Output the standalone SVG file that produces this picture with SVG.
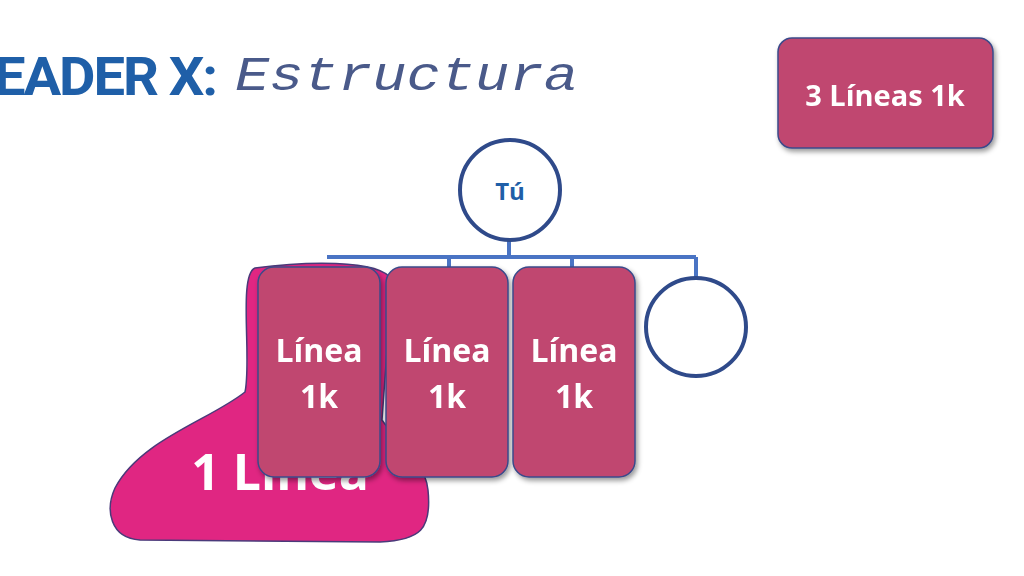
<svg xmlns="http://www.w3.org/2000/svg" width="1024" height="576" viewBox="0 0 1024 576">
<defs>
<style>
.box{fill:#c0466f;stroke:#3a4a8a;stroke-width:1.5}
.bt{font-family:"Open Sans","Liberation Sans",sans-serif;font-weight:bold;fill:#fff;text-anchor:middle}
.circ{fill:#fff;stroke:#2f4a8a;stroke-width:4}
.con{stroke:#4a74c4;stroke-width:4;fill:none}
</style>
<filter id="sh" x="-20%" y="-20%" width="140%" height="140%"><feDropShadow dx="2" dy="3" stdDeviation="2.5" flood-opacity="0.4"/></filter>
</defs>
<rect width="1024" height="576" fill="#fff"/>
<g id="title">
<text x="-6" y="95" font-family="Roboto,'Liberation Sans',sans-serif" font-weight="bold" font-size="54" fill="#1f5fa8" letter-spacing="-2" textLength="222" lengthAdjust="spacingAndGlyphs">EADER X:</text>
<text x="235" y="90" font-family="'Liberation Mono',monospace" font-style="italic" font-size="48" fill="#4a5a8a" textLength="343" lengthAdjust="spacingAndGlyphs">Estructura</text>
</g>
<g id="blob">
<path d="M255 268 C300 262 380 258 392 280 L382 420 C395 440 425 460 428 490 C432 530 420 540 380 542 L140 540 C110 538 105 510 115 488 C140 440 210 420 245 392 C252 360 238 275 255 268 Z" fill="#e02682" stroke="#4a3a7a" stroke-width="1.5"/>
<text x="280" y="490" class="bt" font-size="50">1 Línea</text>
</g>
<g id="connectors">
<path class="con" d="M509 228 V257 M327 257 H696 M449 257 V270 M572 257 V270 M696 257 V280"/>
</g>
<g id="tu"><circle class="circ" cx="510" cy="190" r="50"/>
<text x="510" y="200" font-family="'Open Sans','Liberation Sans',sans-serif" font-weight="bold" font-size="24" fill="#1f5fa8" text-anchor="middle">Tú</text></g>
<g id="empty"><ellipse class="circ" cx="696" cy="327" rx="50" ry="49"/></g>
<g id="l1" filter="url(#sh)"><rect class="box" x="258" y="267" width="122" height="210" rx="16"/>
<text class="bt" x="319" y="362" font-size="32">Línea</text><text class="bt" x="319" y="408" font-size="32">1k</text></g>
<g id="l2" filter="url(#sh)"><rect class="box" x="386" y="267" width="122" height="210" rx="16"/>
<text class="bt" x="447" y="362" font-size="32">Línea</text><text class="bt" x="447" y="408" font-size="32">1k</text></g>
<g id="l3" filter="url(#sh)"><rect class="box" x="513" y="267" width="122" height="210" rx="16"/>
<text class="bt" x="574" y="362" font-size="32">Línea</text><text class="bt" x="574" y="408" font-size="32">1k</text></g>
<g id="l3k" filter="url(#sh)"><rect class="box" x="778" y="38" width="215" height="110" rx="14"/>
<text class="bt" x="885" y="106" font-size="29">3 Líneas 1k</text></g>
</svg>
